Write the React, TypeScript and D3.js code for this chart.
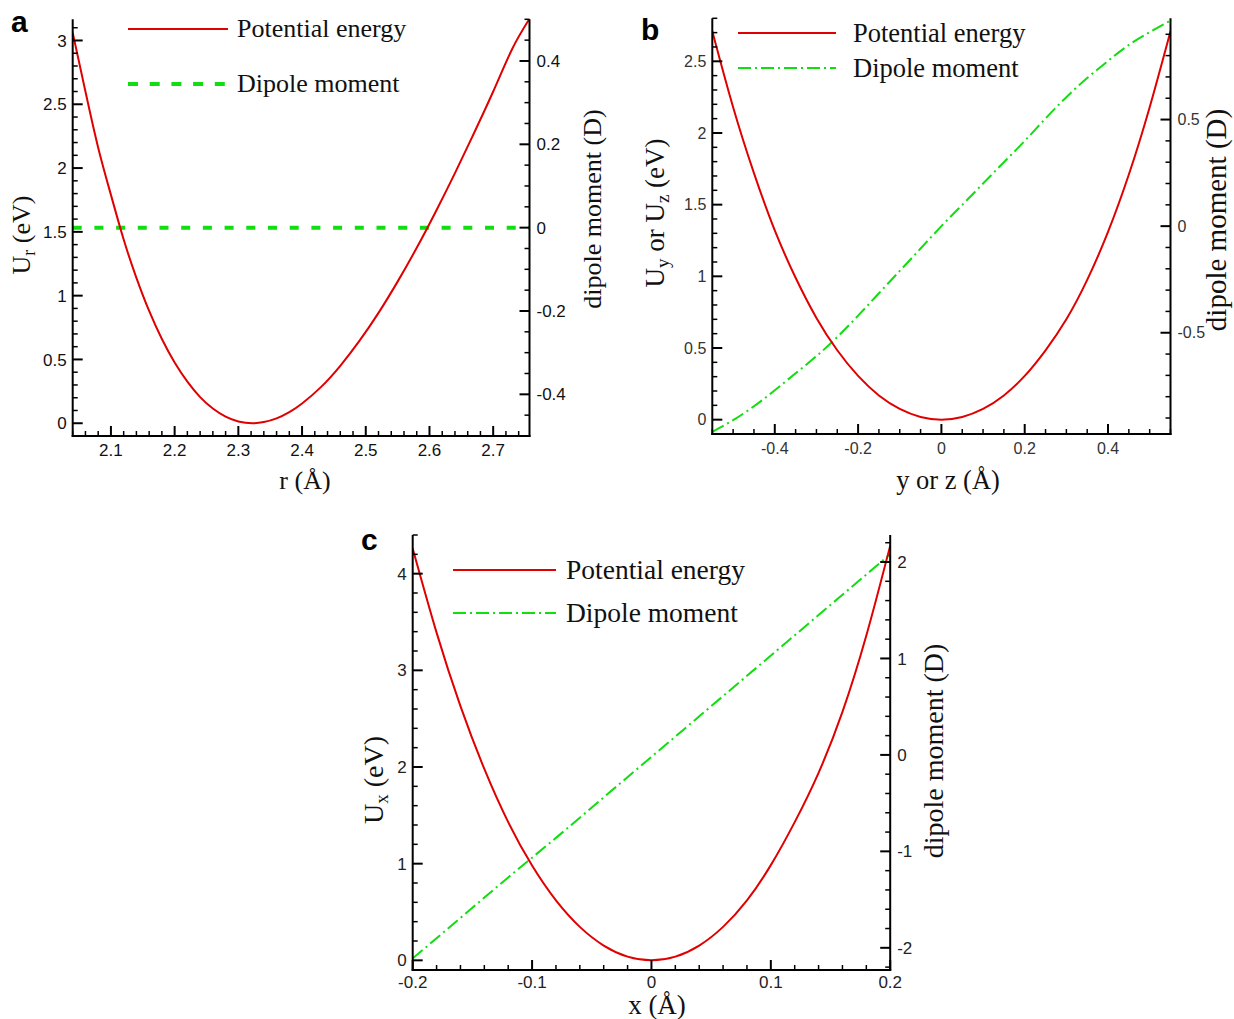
import React from 'react';
import * as d3 from 'd3';

// ---------- Panel a data ----------
const aR = [2.04, 2.06, 2.08, 2.10, 2.12, 2.14, 2.16, 2.18, 2.20, 2.22, 2.24, 2.26, 2.28, 2.30, 2.322, 2.34, 2.36, 2.38, 2.40, 2.43, 2.46, 2.49, 2.52, 2.55, 2.58, 2.61, 2.64, 2.67, 2.70, 2.73, 2.757];
const aU = [3.06, 2.60, 2.16, 1.79, 1.44, 1.14, 0.88, 0.66, 0.476, 0.326, 0.205, 0.115, 0.051, 0.014, 0, 0.009, 0.038, 0.087, 0.155, 0.285, 0.45, 0.645, 0.865, 1.11, 1.375, 1.66, 1.96, 2.275, 2.60, 2.935, 3.17];
const aDipR = [2.04, 2.757];
const aDip = [0, 0];
const aXTicks = [2.1, 2.2, 2.3, 2.4, 2.5, 2.6, 2.7];
const aYTicks = [0, 0.5, 1, 1.5, 2, 2.5, 3];
const aY2Ticks = [-0.4, -0.2, 0, 0.2, 0.4];

// ---------- Panel b data ----------
const bX = [-0.55, -0.5, -0.45, -0.4, -0.35, -0.3, -0.25, -0.2, -0.15, -0.1, -0.05, 0, 0.05, 0.1, 0.15, 0.2, 0.25, 0.3, 0.35, 0.4, 0.45, 0.5, 0.55];
const bU = [2.71, 2.18, 1.72, 1.32, 0.99, 0.71, 0.484, 0.305, 0.169, 0.075, 0.019, 0, 0.019, 0.075, 0.169, 0.305, 0.484, 0.70, 0.975, 1.31, 1.71, 2.18, 2.71];
const bD = [-0.965, -0.91, -0.845, -0.77, -0.69, -0.61, -0.52, -0.42, -0.315, -0.21, -0.105, 0, 0.10, 0.20, 0.30, 0.40, 0.505, 0.605, 0.695, 0.775, 0.85, 0.91, 0.965];
const bXTicks = [-0.4, -0.2, 0, 0.2, 0.4];
const bYTicks = [0, 0.5, 1, 1.5, 2, 2.5];
const bY2Ticks = [-0.5, 0, 0.5];

// ---------- Panel c data ----------
const cX = [-0.2, -0.18, -0.16, -0.14, -0.12, -0.1, -0.08, -0.06, -0.04, -0.02, 0, 0.02, 0.04, 0.06, 0.08, 0.1, 0.12, 0.14, 0.16, 0.18, 0.2];
const cU = [4.26, 3.39, 2.63, 1.98, 1.43, 0.98, 0.62, 0.346, 0.153, 0.038, 0, 0.038, 0.153, 0.346, 0.62, 0.985, 1.43, 1.94, 2.57, 3.36, 4.29];
const cDx = [-0.2, -0.16, -0.12, -0.08, -0.04, 0, 0.04, 0.08, 0.12, 0.16, 0.2];
const cD = [-2.11, -1.69, -1.27, -0.86, -0.44, -0.02, 0.40, 0.82, 1.24, 1.66, 2.08];
const cXTicks = [-0.2, -0.1, 0, 0.1, 0.2];
const cYTicks = [0, 1, 2, 3, 4];
const cY2Ticks = [-2, -1, 0, 1, 2];

const RED = '#e00000';
const GREEN = '#11dd11';
const SERIF = '"Liberation Serif", "Times New Roman", serif';
const SANS = '"Liberation Sans", Arial, sans-serif';

function fmt(v: number) {
  const s = String(Math.round(v * 1000) / 1000);
  return s === '-0' ? '0' : s;
}

function minorVals(d0: number, d1: number, step: number) {
  const out: number[] = [];
  const k0 = Math.ceil(d0 / step - 1e-6);
  const k1 = Math.floor(d1 / step + 1e-6);
  for (let k = k0; k <= k1; k++) out.push(k * step);
  return out;
}

type PanelCfg = {
  id: string;
  left: number; right: number; top: number; bottom: number;
  xDom: [number, number]; yDom: [number, number]; y2Dom: [number, number];
  xTicks: number[]; yTicks: number[]; y2Ticks: number[];
  xMinor: number; yMinor: number; y2Minor: number;
  tickFont: number; tickColor: string; xLabelOffset: number;
  red: { x: number[]; y: number[] };
  green: { x: number[]; y: number[] };
  greenDash: string; greenWidth: number; greenDashOffset: number;
};

function Panel({ cfg }: { cfg: PanelCfg }) {
  const x = d3.scaleLinear().domain(cfg.xDom).range([cfg.left, cfg.right]);
  const y = d3.scaleLinear().domain(cfg.yDom).range([cfg.bottom, cfg.top]);
  const y2 = d3.scaleLinear().domain(cfg.y2Dom).range([cfg.bottom, cfg.top]);
  const redPts = cfg.red.x.map((v, i) => [v, cfg.red.y[i]] as [number, number]);
  const greenPts = cfg.green.x.map((v, i) => [v, cfg.green.y[i]] as [number, number]);
  const redLine = d3.line<[number, number]>().x(d => x(d[0])).y(d => y(d[1])).curve(d3.curveNatural);
  const greenLine = d3.line<[number, number]>().x(d => x(d[0])).y(d => y2(d[1])).curve(d3.curveNatural);
  const MAJ = 10, MIN = 5;
  const clipId = 'clip-' + cfg.id;
  const els: React.ReactNode[] = [];
  minorVals(cfg.xDom[0], cfg.xDom[1], cfg.xMinor).forEach((v, i) => {
    const isMaj = cfg.xTicks.some(t => Math.abs(t - v) < 1e-6);
    els.push(<line key={'xm' + i} x1={x(v)} x2={x(v)} y1={cfg.bottom} y2={cfg.bottom - (isMaj ? MAJ : MIN)} stroke="#000" strokeWidth={isMaj ? 2 : 1.5} />);
  });
  minorVals(cfg.yDom[0], cfg.yDom[1], cfg.yMinor).forEach((v, i) => {
    const isMaj = cfg.yTicks.some(t => Math.abs(t - v) < 1e-6);
    els.push(<line key={'ym' + i} x1={cfg.left} x2={cfg.left + (isMaj ? MAJ : MIN)} y1={y(v)} y2={y(v)} stroke="#000" strokeWidth={isMaj ? 2 : 1.5} />);
  });
  minorVals(cfg.y2Dom[0], cfg.y2Dom[1], cfg.y2Minor).forEach((v, i) => {
    const isMaj = cfg.y2Ticks.some(t => Math.abs(t - v) < 1e-6);
    els.push(<line key={'y2m' + i} x1={cfg.right} x2={cfg.right - (isMaj ? MAJ : MIN)} y1={y2(v)} y2={y2(v)} stroke="#000" strokeWidth={isMaj ? 2 : 1.5} />);
  });
  return (
    <g>
      <defs>
        <clipPath id={clipId}>
          <rect x={cfg.left} y={cfg.top} width={cfg.right - cfg.left} height={cfg.bottom - cfg.top} />
        </clipPath>
      </defs>
      <g clipPath={`url(#${clipId})`}>
        <path d={greenLine(greenPts) || ''} fill="none" stroke={GREEN} strokeWidth={cfg.greenWidth} strokeDasharray={cfg.greenDash} strokeDashoffset={cfg.greenDashOffset} />
        <path d={redLine(redPts) || ''} fill="none" stroke={RED} strokeWidth={2} />
      </g>
      {els}
      <line x1={cfg.left} x2={cfg.left} y1={cfg.top} y2={cfg.bottom + 1} stroke="#000" strokeWidth={2} />
      <line x1={cfg.right} x2={cfg.right} y1={cfg.top} y2={cfg.bottom + 1} stroke="#000" strokeWidth={2} />
      <line x1={cfg.left - 1} x2={cfg.right + 1} y1={cfg.bottom} y2={cfg.bottom} stroke="#000" strokeWidth={2} />
      <g fontFamily={SANS} fontSize={cfg.tickFont} fill={cfg.tickColor}>
        {cfg.xTicks.map((t, i) => (
          <text key={'xl' + i} x={x(t)} y={cfg.bottom + cfg.xLabelOffset} textAnchor="middle">{fmt(t)}</text>
        ))}
        {cfg.yTicks.map((t, i) => (
          <text key={'yl' + i} x={cfg.left - 6} y={y(t)} dy="0.36em" textAnchor="end">{fmt(t)}</text>
        ))}
        {cfg.y2Ticks.map((t, i) => (
          <text key={'y2l' + i} x={cfg.right + 7} y={y2(t)} dy="0.36em" textAnchor="start">{fmt(t)}</text>
        ))}
      </g>
    </g>
  );
}

const panels: PanelCfg[] = [
  {
    id: 'a', left: 72.7, right: 529.5, top: 19.3, bottom: 436,
    xDom: [2.04, 2.757], yDom: [-0.1, 3.166], y2Dom: [-0.5, 0.5],
    xTicks: aXTicks, yTicks: aYTicks, y2Ticks: aY2Ticks,
    xMinor: 0.02, yMinor: 0.1, y2Minor: 0.05,
    tickFont: 17, tickColor: '#111', xLabelOffset: 20,
    red: { x: aR, y: aU }, green: { x: aDipR, y: aDip },
    greenDash: '9 12.7', greenWidth: 4, greenDashOffset: 0,
  },
  {
    id: 'b', left: 712.3, right: 1170.5, top: 18.3, bottom: 434,
    xDom: [-0.55, 0.55], yDom: [-0.1, 2.8], y2Dom: [-0.975, 0.975],
    xTicks: bXTicks, yTicks: bYTicks, y2Ticks: bY2Ticks,
    xMinor: 0.05, yMinor: 0.1, y2Minor: 0.1,
    tickFont: 16, tickColor: '#333', xLabelOffset: 20,
    red: { x: bX, y: bU }, green: { x: bX, y: bD },
    greenDash: '13 4 2 4', greenWidth: 2, greenDashOffset: 0,
  },
  {
    id: 'c', left: 412.7, right: 890.2, top: 535, bottom: 970,
    xDom: [-0.2, 0.2], yDom: [-0.1, 4.4], y2Dom: [-2.23, 2.28],
    xTicks: cXTicks, yTicks: cYTicks, y2Ticks: cY2Ticks,
    xMinor: 0.02, yMinor: 0.2, y2Minor: 0.2,
    tickFont: 17, tickColor: '#222', xLabelOffset: 18,
    red: { x: cX, y: cU }, green: { x: cDx, y: cD },
    greenDash: '13 4 2 4', greenWidth: 2, greenDashOffset: 0,
  },
];

function VTitle({ x, y, size, children }: { x: number; y: number; size: number; children: React.ReactNode }) {
  return (
    <text transform={`translate(${x},${y}) rotate(-90)`} textAnchor="middle" fontFamily={SERIF} fontSize={size} fill="#111">
      {children}
    </text>
  );
}

export default function App() {
  return (
    <svg width={1234} height={1019} style={{ position: 'absolute', left: 0, top: 0, background: '#fff' }}>
      <rect x={0} y={0} width={1234} height={1019} fill="#fff" />
      {panels.map(p => <Panel key={p.id} cfg={p} />)}

      <g fontFamily={SANS} fontWeight="bold" fontSize={30} fill="#000">
        <text x={11} y={32}>a</text>
        <text x={641} y={40}>b</text>
        <text x={361} y={550}>c</text>
      </g>

      <g fontFamily={SERIF} fill="#111">
        <line x1={128} x2={228} y1={29} y2={29} stroke={RED} strokeWidth={2} />
        <text x={237} y={37} fontSize={26}>Potential energy</text>
        <line x1={128} x2={226} y1={84} y2={84} stroke={GREEN} strokeWidth={4} strokeDasharray="10 11.7" />
        <text x={237} y={92} fontSize={26}>Dipole moment</text>

        <line x1={738} x2={836} y1={33} y2={33} stroke={RED} strokeWidth={2} />
        <text x={853} y={42} fontSize={26.5}>Potential energy</text>
        <line x1={738} x2={836} y1={68} y2={68} stroke={GREEN} strokeWidth={2} strokeDasharray="13 4 2 4" />
        <text x={853} y={77} fontSize={26.5}>Dipole moment</text>

        <line x1={453} x2={556} y1={570} y2={570} stroke={RED} strokeWidth={2} />
        <text x={566} y={579} fontSize={27.5}>Potential energy</text>
        <line x1={453} x2={556} y1={613} y2={613} stroke={GREEN} strokeWidth={2} strokeDasharray="13 4 2 4" />
        <text x={566} y={622} fontSize={27.5}>Dipole moment</text>
      </g>

      <g fontFamily={SERIF} fill="#111">
        <text x={305} y={489} fontSize={26} textAnchor="middle">r (Å)</text>
        <text x={948} y={489} fontSize={26.5} textAnchor="middle">y or z (Å)</text>
        <text x={657} y={1014} fontSize={27} textAnchor="middle">x (Å)</text>
      </g>
      <VTitle x={30} y={235} size={26}>
        U<tspan fontSize={18} dy={5}>r</tspan><tspan dy={-5}> (eV)</tspan>
      </VTitle>
      <VTitle x={601} y={209} size={26}>dipole moment (D)</VTitle>

      <VTitle x={664} y={213} size={27}>
        U<tspan fontSize={19} dy={5}>y</tspan><tspan dy={-5}> or U</tspan><tspan fontSize={19} dy={5}>z</tspan><tspan dy={-5}> (eV)</tspan>
      </VTitle>
      <VTitle x={1226} y={220} size={29}>dipole moment (D)</VTitle>

      <VTitle x={383} y={780} size={28}>
        U<tspan fontSize={19} dy={5}>x</tspan><tspan dy={-5}> (eV)</tspan>
      </VTitle>
      <VTitle x={943} y={751} size={28}>dipole moment (D)</VTitle>
    </svg>
  );
}
